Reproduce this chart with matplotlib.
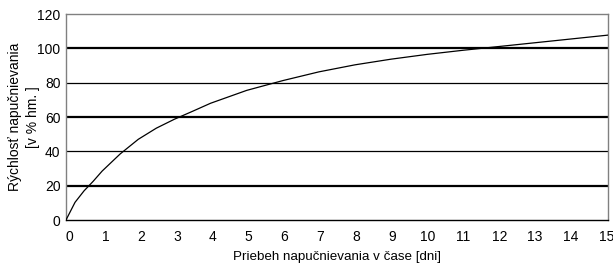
import matplotlib
matplotlib.use("Agg")
import matplotlib.pyplot as plt
from matplotlib.transforms import ScaledTranslation

# Data
days = [0, 0.25, 0.5, 0.75, 1, 1.5, 2, 2.5, 3, 3.5, 4, 5, 6, 7, 8, 9, 10, 11, 12, 13, 14, 15]
rate = [0, 10.3, 17, 22.5, 28.5, 38.5, 47, 53.5, 58.7, 63.3, 68, 75.5, 81.2, 86.3, 90.4, 93.7,
        96.5, 98.9, 101.1, 103.3, 105.5, 107.7]
xticks = list(range(0, 16))
yticks = [0, 20, 40, 60, 80, 100, 120]
thick_grid = [20, 60, 100]
thin_grid = [40, 80]
ylabel_lines = ['Rýchlosť napučnievania', '[v % hm. ]']

plt.rcParams['font.family'] = ['Liberation Sans', 'DejaVu Sans']
plt.rcParams['font.size'] = 10

fig = plt.figure(figsize=(6.13, 2.64), dpi=100)
ax = fig.add_axes([66 / 613, 1 - 220 / 264, (608 - 66) / 613, (220 - 14) / 264])

for g in thick_grid:
    ax.axhline(g, color='black', lw=1.6, zorder=1)
for g in thin_grid:
    ax.axhline(g, color='black', lw=0.9, zorder=1)

ax.plot(days, rate, color='black', lw=0.9, zorder=3)

ax.set_xlim(0, 15)
ax.set_ylim(0, 120)
ax.set_xticks(xticks)
ax.set_yticks(yticks)
ax.tick_params(axis='both', length=0, labelsize=10)
ax.tick_params(axis='x', pad=7)
ax.tick_params(axis='y', pad=4)

# reference tick labels are spaced slightly tighter than the axis
n = len(xticks) - 1
for i, lab in enumerate(ax.get_xticklabels()):
    dx = (3.5 - 4.8 * i / n) / 100.0
    lab.set_transform(lab.get_transform() + ScaledTranslation(dx, 0, fig.dpi_scale_trans))

for s in ['left', 'right', 'top']:
    ax.spines[s].set_color('#808080')
    ax.spines[s].set_linewidth(1.0)
ax.spines['bottom'].set_color('black')
ax.spines['bottom'].set_linewidth(1.0)

ax.set_xlabel('Priebeh napučnievania v čase [dni]', fontsize=9.6, labelpad=5)
ax.text(-0.094, 0.5, ylabel_lines[0], transform=ax.transAxes, rotation=90,
        ha='center', va='center', fontsize=10)
ax.text(-0.060, 0.5, ylabel_lines[1], transform=ax.transAxes, rotation=90,
        ha='center', va='center', fontsize=10)

fig.savefig('out.png', dpi=100)
